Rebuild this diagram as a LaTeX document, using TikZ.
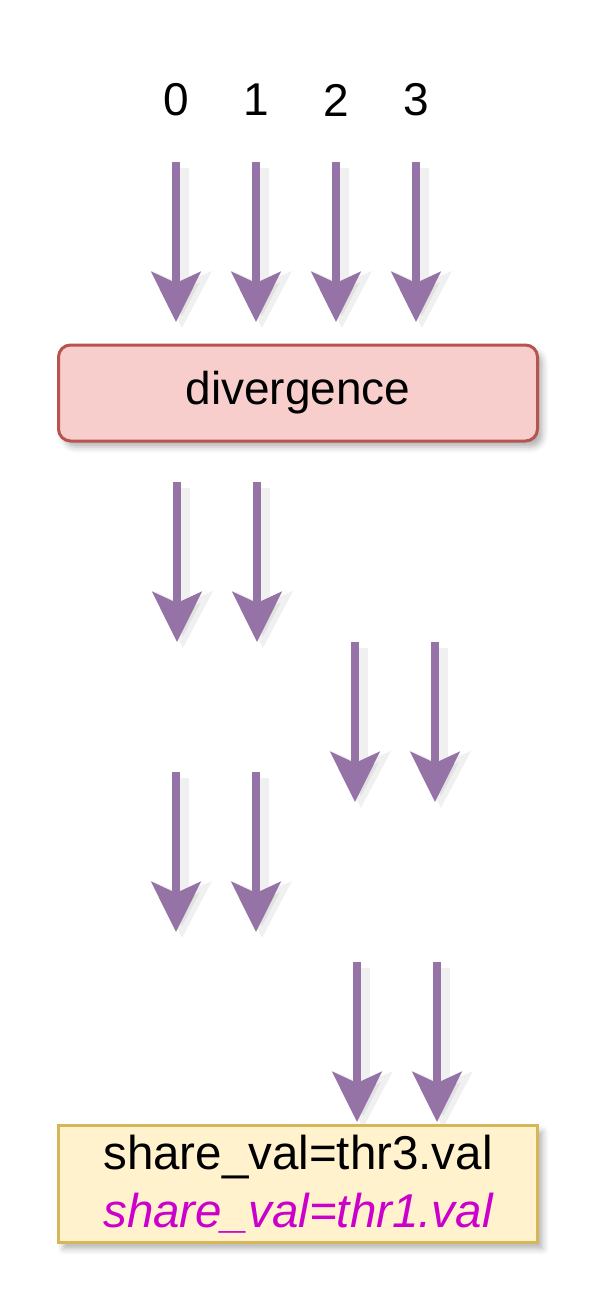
\documentclass[tikz,border=0pt]{standalone}
\usepackage{fontspec}
\setmainfont{Liberation Sans}
\usetikzlibrary{arrows.meta,shadows.blur}
\definecolor{arr}{HTML}{9673A6}
\definecolor{redfill}{HTML}{F8CECC}
\definecolor{redline}{HTML}{B85450}
\definecolor{yelfill}{HTML}{FFF2CC}
\definecolor{yelline}{HTML}{D6B656}
\definecolor{mag}{HTML}{CC00CC}
\tikzset{
  flow/.style={draw=arr, line width=8pt, -{Stealth[length=50pt,width=49pt,inset=11pt]}},
  flowshadow/.style={draw=black, opacity=0.06, line width=14pt, -{Stealth[length=56pt,width=58pt,inset=12pt]}},
  box/.style={line width=3pt, minimum width=479pt, blur shadow={shadow xshift=5pt, shadow yshift=-6pt, shadow blur radius=6pt, shadow opacity=30}},
  lbl/.style={font=\fontsize{46}{56}\selectfont, inner sep=0pt}
}
\begin{document}
\begin{tikzpicture}[x=1pt,y=-1pt]
\useasboundingbox (0,0) rectangle (604,1312);
% labels
\foreach \i/\x in {0/176,1/256,2/336,3/416}{
  \node[lbl] (n\i) at (\x,100) {\i};
}
% arrow coordinates
\foreach \i/\x in {0/176,1/256,2/336,3/416}{
  \coordinate (a\i s) at (\x,162);
  \coordinate (a\i e) at (\x,322);
}
\coordinate (b0s) at (177,482); \coordinate (b0e) at (177,642);
\coordinate (b1s) at (257,482); \coordinate (b1e) at (257,642);
\coordinate (c0s) at (355,642); \coordinate (c0e) at (355,802);
\coordinate (c1s) at (435,642); \coordinate (c1e) at (435,802);
\coordinate (d0s) at (176,772); \coordinate (d0e) at (176,932);
\coordinate (d1s) at (256,772); \coordinate (d1e) at (256,932);
\coordinate (e0s) at (357,962); \coordinate (e0e) at (357,1122);
\coordinate (e1s) at (437,962); \coordinate (e1e) at (437,1122);
% shadows of arrows
\foreach \n in {a0,a1,a2,a3,b0,b1,c0,c1,d0,d1,e0,e1}{
  \draw[flowshadow, transform canvas={xshift=6pt,yshift=-6pt}] (\n s) -- (\n e);
}
% arrows
\foreach \n in {a0,a1,a2,a3,b0,b1,c0,c1,d0,d1,e0,e1}{
  \draw[flow] (\n s) -- (\n e);
}
% boxes
\node[box, draw=redline, fill=redfill, rounded corners=12pt, minimum height=96pt, lbl, font=\fontsize{46}{56}\selectfont] (div) at (298,393) {divergence};
\node[box, draw=yelline, fill=yelfill, minimum height=117pt, align=center, font=\fontsize{47.5}{58}\selectfont, inner sep=0pt] (sv) at (298,1184)
  {share\_val=thr3.val\\\textcolor{mag}{\itshape share\_val=thr1.val}};
\end{tikzpicture}
\end{document}
